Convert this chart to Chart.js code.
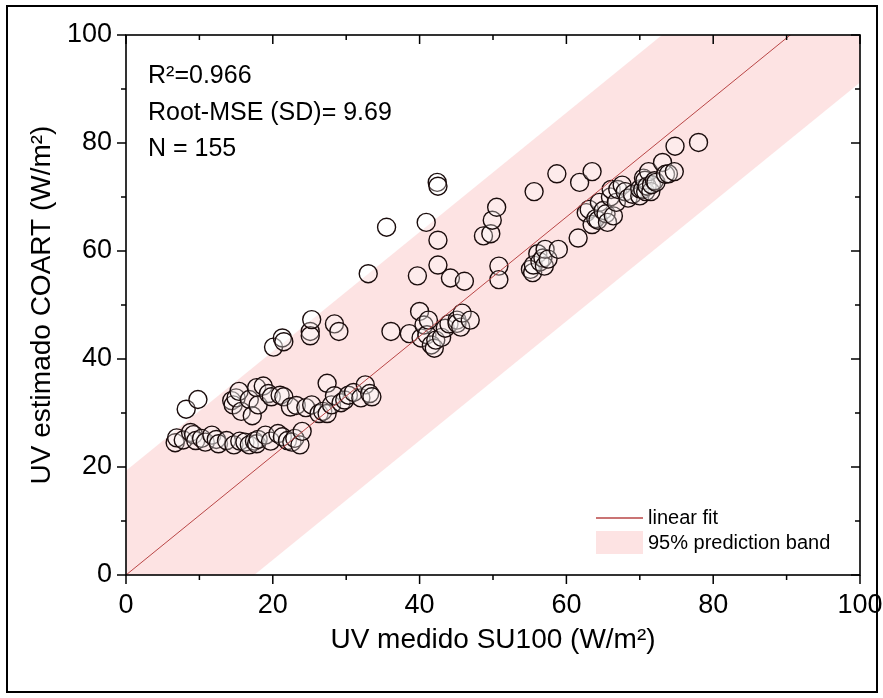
<!DOCTYPE html>
<html>
<head>
    <script src="https://cdn.jsdelivr.net/npm/chart.js"></script>
    <style>
        html, body { margin: 0; padding: 0; background: #fff; }
        #wrap { width: 883px; height: 698px; }
    </style>
</head>
<body>
    <div id="wrap">
        <canvas id="uvChart" width="883" height="698"></canvas>
    </div>

    <script>
        const uvMedido = [
            6.7, 6.9, 7.8, 8.8, 9.2, 9.5, 10.3, 10.8, 11.7, 12.3, 12.6, 13.7, 14.7, 15.5,
            16.2, 16.8, 17.5, 17.8, 18.0, 19.0, 19.7, 20.7, 21.3, 22.0, 22.6, 23.0, 23.7, 24.0,
            8.2, 9.8,
            14.4, 14.6, 15.0, 15.4, 15.7, 16.8, 17.2, 17.8, 18.0, 18.7, 19.4, 19.8, 21.0, 21.5,
            22.4, 23.2, 24.5, 25.3, 26.3, 26.8, 27.4, 27.4, 28.0, 28.4, 29.3, 29.8, 30.3, 31.0,
            32.0, 32.6, 33.2, 33.5,
            20.1, 21.3, 21.5, 25.1, 25.1, 25.3, 28.4, 29.0,
            33.0, 35.5, 36.1,
            38.6, 39.7, 40.0, 40.2, 40.6, 40.9, 41.0, 41.2, 41.6, 42.0, 42.2, 42.4, 42.5, 42.5,
            42.5, 43.0, 43.5, 44.0, 44.2, 45.1, 45.1, 45.6, 45.8, 46.1, 46.9,
            48.7, 49.7, 49.9, 50.5, 50.8, 50.8,
            55.1, 55.4, 55.5, 55.6, 56.1, 56.4, 56.8, 57.0, 57.1, 57.5, 58.7, 58.9,
            61.6, 61.8, 62.7, 63.1, 63.5, 63.5, 64.0, 64.3, 64.5, 65.0, 65.4, 65.6, 66.0, 66.1,
            66.4, 66.8, 67.0, 67.6, 68.0, 68.4, 69.0, 70.0, 70.0, 70.4, 70.5, 70.7, 70.8, 71.0,
            71.2, 71.5, 71.6, 72.0, 72.2, 73.1, 73.5, 73.9, 74.7, 74.8, 78.0
        ];
        const uvCoart = [
            24.5, 25.4, 25.0, 26.4, 26.0, 24.9, 25.3, 24.6, 25.9, 25.1, 24.3, 24.9, 24.1, 24.8,
            24.6, 24.1, 24.8, 24.3, 25.1, 25.9, 24.8, 26.2, 25.6, 24.9, 24.6, 25.3, 24.1, 26.6,
            30.7, 32.5,
            32.3, 31.5, 32.8, 34.0, 30.3, 32.5, 29.5, 34.7, 31.5, 35.0, 33.6, 33.0, 33.3, 33.0,
            31.1, 31.4, 31.0, 31.5, 29.9, 30.3, 35.5, 29.9, 31.5, 33.2, 31.9, 32.4, 33.3, 33.8,
            32.8, 35.2, 33.6, 33.0,
            42.2, 43.9, 43.2, 45.1, 44.3, 47.3, 46.5, 45.1,
            55.8, 64.4, 45.1,
            44.7, 55.4, 48.8, 43.9, 46.3, 65.3, 44.5, 47.2, 42.6, 42.0, 43.5, 72.7, 72.0, 62.0,
            57.4, 44.0, 45.7, 46.5, 55.0, 47.2, 46.6, 45.9, 48.5, 54.4, 47.2,
            62.8, 63.2, 65.7, 68.1, 57.2, 54.7,
            56.6, 56.0, 57.4, 71.0, 59.5, 58.0, 58.7, 57.2, 60.3, 58.5, 74.3, 60.3,
            62.4, 72.7, 67.1, 67.7, 74.7, 64.9, 66.0, 65.7, 69.0, 67.5, 66.9, 65.3, 70.0, 71.4,
            66.5, 69.0, 71.4, 72.2, 71.0, 69.8, 70.5, 70.2, 71.5, 71.4, 73.5, 73.1, 71.0, 72.0,
            74.7, 71.0, 72.3, 73.0, 72.7, 76.4, 74.2, 74.3, 74.7, 79.4, 80.1
        ];

        // linear fit and 95% prediction band end points
        const fitX = [0, 100];
        const fitY = [0, 110.5];
        const bandUpper = [19.3, 129.8];
        const bandLower = [-19.3, 91.2];

        const statsLines = ['R\u00B2=0.966', 'Root-MSE (SD)= 9.69', 'N = 155'];
        const legendLabels = ['linear fit', '95% prediction band'];

        const FONT = '"Liberation Sans", Arial, sans-serif';
        const bandColor = 'rgb(253,227,227)';
        const fitColor = 'rgb(185,70,70)';

        const pts = (xs, ys) => xs.map((x, i) => ({ x: x, y: ys[i] }));

        // frame, minor/major ticks, titles, stats text and legend
        const decorations = {
            id: 'decorations',
            beforeDraw(chart) {
                const ctx = chart.ctx;
                ctx.save();
                ctx.fillStyle = '#fff';
                ctx.fillRect(0, 0, chart.width, chart.height);
                ctx.restore();
            },
            afterDraw(chart) {
                const ctx = chart.ctx;
                const a = chart.chartArea;
                const xs = chart.scales.x, ys = chart.scales.y;
                ctx.save();
                ctx.strokeStyle = '#000';
                ctx.lineWidth = 1.6;
                ctx.strokeRect(a.left, a.top, a.right - a.left, a.bottom - a.top);

                ctx.lineWidth = 1.5;
                ctx.beginPath();
                for (let v = 0; v <= 100; v += 10) {
                    const len = v % 20 === 0 ? 9 : 5;
                    const px = xs.getPixelForValue(v);
                    const py = ys.getPixelForValue(v);
                    ctx.moveTo(px, a.bottom); ctx.lineTo(px, a.bottom + len);
                    ctx.moveTo(px, a.top); ctx.lineTo(px, a.top + len);
                    ctx.moveTo(a.left, py); ctx.lineTo(a.left - len, py);
                    ctx.moveTo(a.right, py); ctx.lineTo(a.right - len, py);
                }
                ctx.stroke();

                // outer frame
                ctx.lineWidth = 2;
                ctx.strokeRect(7, 6, 870, 686);

                ctx.fillStyle = '#000';
                ctx.textBaseline = 'middle';
                ctx.textAlign = 'center';
                ctx.font = '28px ' + FONT;
                ctx.fillText('UV medido SU100 (W/m\u00B2)', (a.left + a.right) / 2, 640);
                ctx.save();
                ctx.translate(42, (a.top + a.bottom) / 2);
                ctx.rotate(-Math.PI / 2);
                ctx.fillText('UV estimado COART (W/m\u00B2)', 0, 0);
                ctx.restore();

                ctx.textAlign = 'left';
                ctx.textBaseline = 'alphabetic';
                ctx.font = '25px ' + FONT;
                const base = [83, 120, 156];
                statsLines.forEach((t, i) => ctx.fillText(t, 148, base[i]));

                // legend
                ctx.strokeStyle = fitColor;
                ctx.lineWidth = 1.3;
                ctx.beginPath();
                ctx.moveTo(596, 518); ctx.lineTo(643, 518);
                ctx.stroke();
                ctx.fillStyle = bandColor;
                ctx.fillRect(596, 531, 47, 23);
                ctx.fillStyle = '#000';
                ctx.font = '20px ' + FONT;
                ctx.textBaseline = 'middle';
                ctx.fillText(legendLabels[0], 648, 518);
                ctx.fillText(legendLabels[1], 648, 543);
                ctx.restore();
            }
        };

        new Chart(document.getElementById('uvChart'), {
            type: 'scatter',
            data: {
                datasets: [
                    {
                        type: 'line',
                        label: legendLabels[0],
                        data: pts(fitX, fitY),
                        borderColor: fitColor,
                        borderWidth: 1,
                        pointRadius: 0,
                        fill: false,
                        order: 0
                    },
                    {
                        label: 'UV',
                        data: pts(uvMedido, uvCoart),
                        pointRadius: 9,
                        pointHoverRadius: 9,
                        borderColor: '#1a0c0c',
                        borderWidth: 1.4,
                        backgroundColor: 'rgba(255,255,255,0.3)',
                        order: 1
                    },
                    {
                        type: 'line',
                        label: 'upper',
                        data: pts(fitX, bandUpper),
                        borderWidth: 0,
                        borderColor: 'rgba(0,0,0,0)',
                        pointRadius: 0,
                        fill: false,
                        order: 2
                    },
                    {
                        type: 'line',
                        label: legendLabels[1],
                        data: pts(fitX, bandLower),
                        borderWidth: 0,
                        borderColor: 'rgba(0,0,0,0)',
                        backgroundColor: bandColor,
                        pointRadius: 0,
                        fill: '-1',
                        order: 3
                    }
                ]
            },
            plugins: [decorations],
            options: {
                responsive: false,
                animation: false,
                events: [],
                layout: { padding: { top: 35, right: 23, left: 0, bottom: 0 } },
                plugins: {
                    legend: { display: false },
                    tooltip: { enabled: false }
                },
                scales: {
                    x: {
                        type: 'linear',
                        min: 0,
                        max: 100,
                        grid: { display: false, drawTicks: false },
                        border: { display: false },
                        ticks: {
                            stepSize: 20,
                            padding: 14,
                            color: '#000',
                            font: { family: FONT, size: 27 },
                            maxRotation: 0
                        },
                        afterFit(scale) {
                            scale.height = 123;
                            scale.paddingLeft = 0;
                            scale.paddingRight = 0;
                        }
                    },
                    y: {
                        type: 'linear',
                        min: 0,
                        max: 100,
                        grid: { display: false, drawTicks: false },
                        border: { display: false },
                        ticks: {
                            stepSize: 20,
                            padding: 14,
                            color: '#000',
                            font: { family: FONT, size: 27 }
                        },
                        afterFit(scale) {
                            scale.width = 126;
                            scale.paddingTop = 0;
                            scale.paddingBottom = 0;
                        }
                    }
                }
            }
        });
    </script>
</body>
</html>
